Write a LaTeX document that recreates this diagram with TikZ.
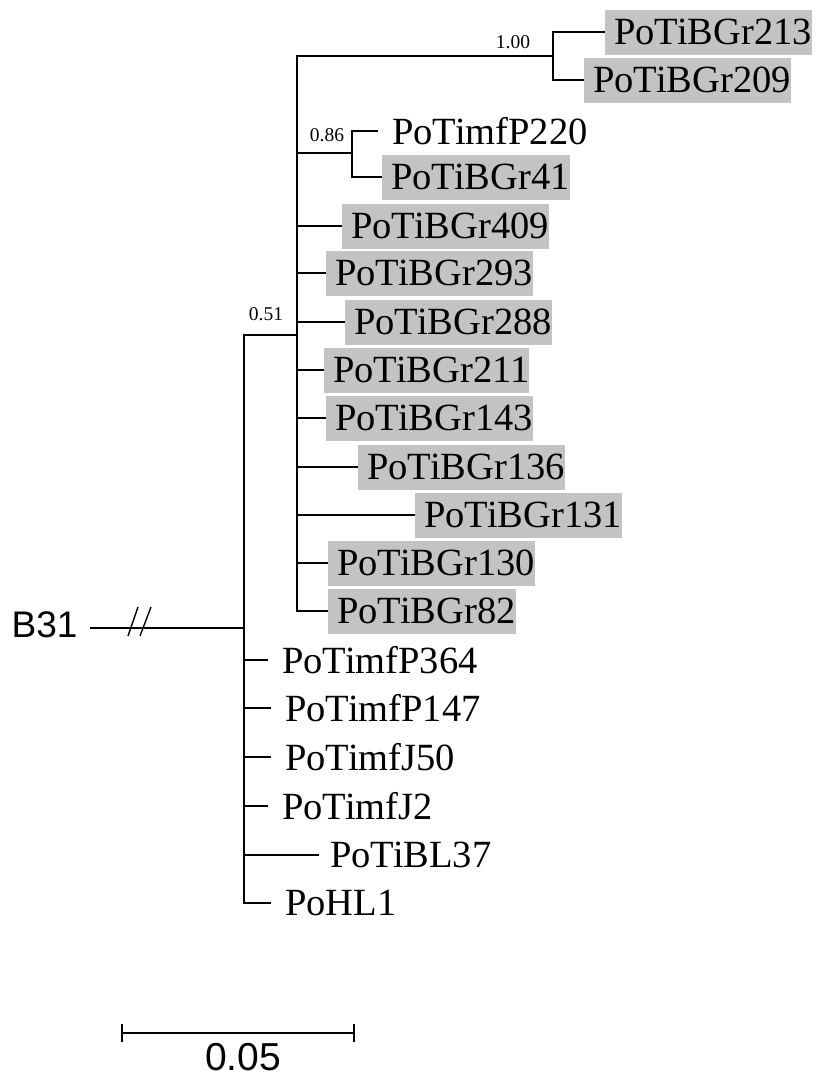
\documentclass[tikz,border=0pt]{standalone}
\usepackage{fontspec}
\setmainfont{Liberation Serif}
\newfontfamily\arialfont{Liberation Sans}
\definecolor{boxgray}{RGB}{195,195,195}
\begin{document}
\begin{tikzpicture}[x=1pt,y=-1pt,
  branch/.style={line width=1.9pt, line join=miter},
  leafbox/.style={anchor=west, fill=boxgray, inner xsep=0pt, inner ysep=0pt, minimum height=45pt, font=\fontsize{38.5}{40}\selectfont},
  leafplain/.style={anchor=west, inner xsep=0pt, inner ysep=0pt, minimum height=45pt, font=\fontsize{38.5}{40}\selectfont},
  support/.style={font=\fontsize{19.5}{20}\selectfont, inner sep=0pt},
  sanslabel/.style={font=\arialfont\fontsize{37}{40}\selectfont, inner sep=0pt},
  slash/.style={line width=1.4pt},
]
\useasboundingbox (0,0) rectangle (817,1077);
\newcommand{\bx}[1]{\hspace{9pt}#1\hspace{3pt}}
\newcommand{\pl}[1]{\hspace{14pt}#1}

% internal nodes
\coordinate (rootend) at (90,628);
\coordinate (main) at (244,628);
\coordinate (c051) at (297,335);
\coordinate (c100) at (553,56);
\coordinate (c086) at (352,153);

% leaves
\node[leafbox] (l213) at (605,32) {\bx{PoTiBGr213}};
\node[leafbox] (l209) at (584,80) {\bx{PoTiBGr209}};
\node[leafplain] (lP220) at (378,131) {\pl{PoTimfP220}};
\node[leafbox] (l41) at (382,177) {\bx{PoTiBGr41}};
\node[leafbox] (l409) at (342,226) {\bx{PoTiBGr409}};
\node[leafbox] (l293) at (326,273) {\bx{PoTiBGr293}};
\node[leafbox] (l288) at (345,322) {\bx{PoTiBGr288}};
\node[leafbox] (l211) at (324,370) {\bx{PoTiBGr211}};
\node[leafbox] (l143) at (326,418) {\bx{PoTiBGr143}};
\node[leafbox] (l136) at (358,467) {\bx{PoTiBGr136}};
\node[leafbox] (l131) at (415,515) {\bx{PoTiBGr131}};
\node[leafbox] (l130) at (328,563) {\bx{PoTiBGr130}};
\node[leafbox] (l82) at (328,611) {\bx{PoTiBGr82}};
\node[leafplain] (lP364) at (268,660) {\pl{PoTimfP364}};
\node[leafplain] (lP147) at (271,708) {\pl{PoTimfP147}};
\node[leafplain] (lJ50) at (271,757) {\pl{PoTimfJ50}};
\node[leafplain] (lJ2) at (268,806) {\pl{PoTimfJ2}};
\node[leafplain] (lBL37) at (319,855) {\hspace{11pt}PoTiBL37};
\node[leafplain] (lHL1) at (271,903) {\pl{PoHL1}};

% root label
\node[sanslabel] (b31) at (44.5,625) {B31};

% support values
\node[support] (s100) at (513,42) {1.00};
\node[support] (s086) at (327,135) {0.86};
\node[support] (s051) at (266,314) {0.51};

% branches
\draw[branch] (rootend) -- (main);
\draw[slash] (128,636) -- (138,607);
\draw[slash] (140,636) -- (151,607);
\draw[branch] (main) |- (c051);
\draw[branch] (main) |- (lP364.west);
\draw[branch] (main) |- (lP147.west);
\draw[branch] (main) |- (lJ50.west);
\draw[branch] (main) |- (lJ2.west);
\draw[branch] (main) |- (lBL37.west);
\draw[branch] (main) |- (lHL1.west);

\draw[branch] (c051) |- (c100);
\draw[branch] (c100) |- (l213.west);
\draw[branch] (c100) |- (l209.west);
\draw[branch] (c051) |- (c086);
\draw[branch] (c086) |- (lP220.west);
\draw[branch] (c086) |- (l41.west);
\draw[branch] (c051) |- (l409.west);
\draw[branch] (c051) |- (l293.west);
\draw[branch] (c051) |- (l288.west);
\draw[branch] (c051) |- (l211.west);
\draw[branch] (c051) |- (l143.west);
\draw[branch] (c051) |- (l136.west);
\draw[branch] (c051) |- (l131.west);
\draw[branch] (c051) |- (l130.west);
\draw[branch] (c051) |- (l82.west);

% scale bar
\coordinate (sbL) at (122,1033);
\coordinate (sbR) at (354,1033);
\draw[branch] (sbL) -- (sbR);
\draw[branch] ([yshift=-9pt]sbL) -- ([yshift=9pt]sbL);
\draw[branch] ([yshift=-9pt]sbR) -- ([yshift=9pt]sbR);
\node[font=\arialfont\fontsize{39}{42}\selectfont, inner sep=0pt] (sblabel) at (243,1057) {0.05};
\end{tikzpicture}
\end{document}
